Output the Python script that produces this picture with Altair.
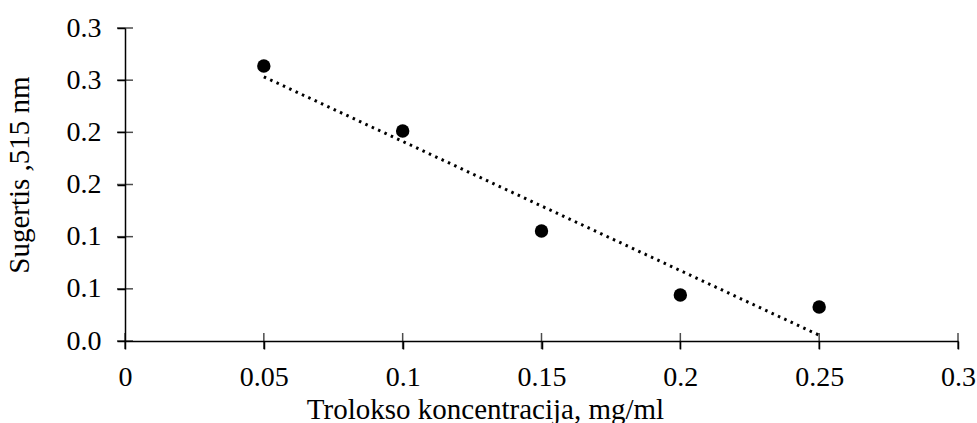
import altair as alt
import pandas as pd

# Data
conc = [0.05, 0.10, 0.15, 0.20, 0.25]
absorb = [0.2636, 0.2013, 0.1054, 0.0441, 0.0326]
tick_vals = [0.0, 0.05, 0.1, 0.15, 0.2, 0.25, 0.3]

x_title = "Trolokso koncentracija, mg/ml"
y_title = "Sugertis ,515 nm"

df = pd.DataFrame({"x": conc, "y": absorb})
ticks = pd.DataFrame({"v": tick_vals, "zero": [0.0] * len(tick_vals)})

FONT = "'Liberation Serif', 'Times New Roman', Times, serif"

xscale = alt.Scale(domain=[0, 0.3], nice=False, zero=True)
yscale = alt.Scale(domain=[0, 0.3], nice=False, zero=True)

xaxis = alt.Axis(
    values=tick_vals, format="~g", grid=False,
    domainColor="black", domainWidth=1.5,
    tickColor="black", tickWidth=1.5, tickSize=8,
    labelFont=FONT, labelFontSize=28, labelColor="black",
    labelPadding=36, labelBaseline="alphabetic", labelFlush=False,
    title=x_title, titleFont=FONT, titleFontSize=29, titleFontWeight="normal",
    titleColor="black", titleX=360, titleY=77, titleAlign="center",
    titleBaseline="alphabetic",
)
yaxis = alt.Axis(
    values=tick_vals, grid=False,
    labelExpr="format(datum.value + 1e-9, '.1f')",
    domainColor="black", domainWidth=1.5,
    tickColor="black", tickWidth=1.5, tickSize=8,
    labelFont=FONT, labelFontSize=28, labelColor="black",
    labelPadding=16, labelBaseline="middle", labelFlush=False,
    title=y_title, titleFont=FONT, titleFontSize=29, titleFontWeight="normal",
    titleColor="black", titleX=-97, titleY=146.5, titleAlign="center",
    titleBaseline="alphabetic",
)

base = alt.Chart(df)

points = base.mark_circle(size=180, color="black", opacity=1).encode(
    x=alt.X("x:Q", scale=xscale, axis=xaxis),
    y=alt.Y("y:Q", scale=yscale, axis=yaxis),
)

trend = base.transform_regression("x", "y").mark_line(
    color="black", strokeWidth=3, strokeDash=[2.5, 4.5]
).encode(
    x=alt.X("x:Q", scale=xscale),
    y=alt.Y("y:Q", scale=yscale),
)

xticks = alt.Chart(ticks).mark_tick(
    orient="vertical", size=16, thickness=1.5, color="black"
).encode(
    x=alt.X("v:Q", scale=xscale),
    y=alt.Y("zero:Q", scale=yscale),
)

yticks = alt.Chart(ticks).mark_tick(
    orient="horizontal", size=16, thickness=1.5, color="black"
).encode(
    x=alt.X("zero:Q", scale=xscale),
    y=alt.Y("v:Q", scale=yscale),
)

chart = alt.layer(trend, points, xticks, yticks).properties(
    width=833, height=313,
    autosize=alt.AutoSizeParams(type="none"),
    padding={"left": 125, "top": 28, "right": 19, "bottom": 82},
    background="white",
).configure_view(stroke=None)

chart.save("out.html", embed_options={"renderer": "svg", "actions": False})
